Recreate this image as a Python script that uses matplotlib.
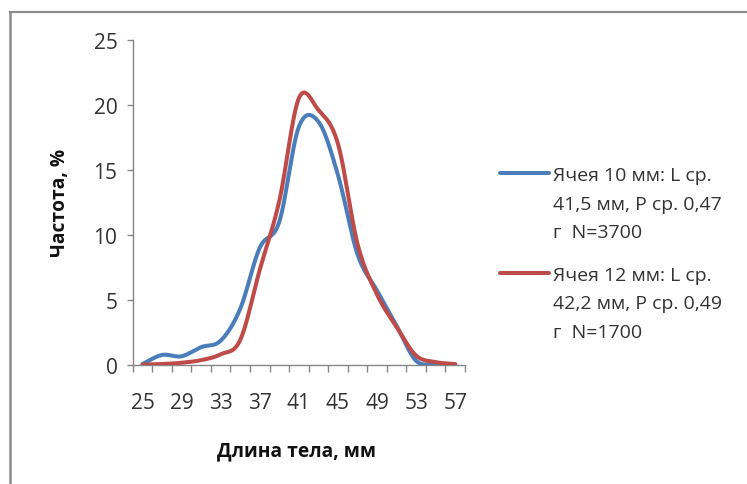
import numpy as np
import matplotlib
matplotlib.use("Agg")
import matplotlib.pyplot as plt
from matplotlib.lines import Line2D

plt.rcParams['font.family'] = ['Open Sans', 'DejaVu Sans']

# ---- data ----
lengths = [25, 27, 29, 31, 33, 35, 37, 39, 41, 43, 45, 47, 49, 51, 53, 55, 57]
tick_labels = ["25", "29", "33", "37", "41", "45", "49", "53", "57"]
freq_10mm = [0.05, 0.75, 0.65, 1.35, 1.85, 4.3, 9.0, 11.0, 18.3, 18.7, 14.6, 8.5, 5.7, 3.0, 0.3, 0.05, 0.0]
freq_12mm = [0.0, 0.05, 0.15, 0.35, 0.8, 1.9, 7.3, 12.6, 20.5, 19.6, 17.0, 9.3, 5.4, 2.9, 0.7, 0.2, 0.05]
series_labels = ["Ячея 10 мм: L ср.\n41,5 мм, P ср. 0,47\nг  N=3700",
                 "Ячея 12 мм: L ср.\n42,2 мм, P ср. 0,49\nг  N=1700"]
colors = ["#4A7EBB", "#BE4B48"]
y_ticks = [0, 5, 10, 15, 20, 25]


def smooth(xs, ys, n=24):
    x = np.asarray(xs, float)
    y = np.asarray(ys, float)
    xp = np.concatenate([[x[0]], x, [x[-1]]])
    yp = np.concatenate([[y[0]], y, [y[-1]]])
    t = np.linspace(0, 1, n, endpoint=False)
    ox, oy = [], []
    for i in range(len(x) - 1):
        j = i + 1
        p0 = np.array([xp[j], yp[j]])
        p3 = np.array([xp[j + 1], yp[j + 1]])
        c1 = p0 + (np.array([xp[j + 1], yp[j + 1]]) - np.array([xp[j - 1], yp[j - 1]])) / 6
        c2 = p3 - (np.array([xp[j + 2], yp[j + 2]]) - np.array([xp[j], yp[j]])) / 6
        b = ((1 - t) ** 3)[:, None] * p0 + (3 * (1 - t) ** 2 * t)[:, None] * c1 \
            + (3 * (1 - t) * t ** 2)[:, None] * c2 + (t ** 3)[:, None] * p3
        ox.extend(b[:, 0]); oy.extend(b[:, 1])
    ox.append(x[-1]); oy.append(y[-1])
    return np.array(ox), np.array(oy)


W, H = 747, 485
fig = plt.figure(figsize=(W / 100, H / 100), dpi=100)
ax = fig.add_axes([132.7 / W, 1 - 365.7 / H, 332.3 / W, 325.0 / H])

pos = np.arange(len(lengths))
for vals, col in zip([freq_10mm, freq_12mm], colors):
    sx, sy = smooth(pos, vals)
    ax.plot(sx, sy, color=col, lw=2.9, solid_capstyle='round', solid_joinstyle='round', zorder=3)

ax.set_xlim(-0.5, len(lengths) - 0.5)
ax.set_ylim(0, 25)
ax.set_yticks(y_ticks)
ax.set_yticklabels([str(v) for v in y_ticks])

ax.set_xticks(np.arange(-0.5, len(lengths), 1.0))
ax.set_xticklabels([])
ax.set_xticks(pos[::2], minor=True)
ax.set_xticklabels(tick_labels, minor=True)

gray = "#868686"
for s in ['top', 'right']:
    ax.spines[s].set_visible(False)
for s in ['left', 'bottom']:
    ax.spines[s].set_color(gray)
    ax.spines[s].set_linewidth(1.0)
ax.tick_params(axis='y', direction='out', length=4.5, width=1.0, color=gray,
               labelsize=15, labelcolor='#333333', pad=6.5)
ax.tick_params(axis='x', which='major', direction='out', length=5, width=1.0, color=gray)
ax.tick_params(axis='x', which='minor', length=0, labelsize=15, labelcolor='#333333', pad=20)

ax.set_xlabel("Длина тела, мм", fontsize=13.8, fontweight='bold', color='#111111')
ax.xaxis.set_label_coords(0.494, -0.232)
ax.set_ylabel("Частота, %", fontsize=13.8, fontweight='bold', color='#111111')
ax.yaxis.set_label_coords(-0.19, 0.5)

# legend (drawn manually so the handle aligns with the first text line)
entry_y = [174.3, 274.3]
for lab, col, ey in zip(series_labels, colors, entry_y):
    fig.add_artist(Line2D([500 / W, 549 / W], [1 - ey / H, 1 - ey / H],
                          transform=fig.transFigure, color=col, lw=2.9, solid_capstyle='round'))
    for k, line in enumerate(lab.split("\n")):
        fig.text(553.3 / W, 1 - (ey + 6.5 + k * 28.7) / H, line, fontsize=14,
                 color='#333333', ha='left', va='baseline')

# outer frame (top and left edges visible)
fc = "#8C8C8C"
fig.add_artist(Line2D([9.5 / W, 1.0], [1 - 12.5 / H, 1 - 12.5 / H], transform=fig.transFigure, color=fc, lw=1.6))
fig.add_artist(Line2D([9.5 / W, 9.5 / W], [0, 1 - 12.5 / H], transform=fig.transFigure, color=fc, lw=1.8))

fig.savefig("out.png", dpi=100)
